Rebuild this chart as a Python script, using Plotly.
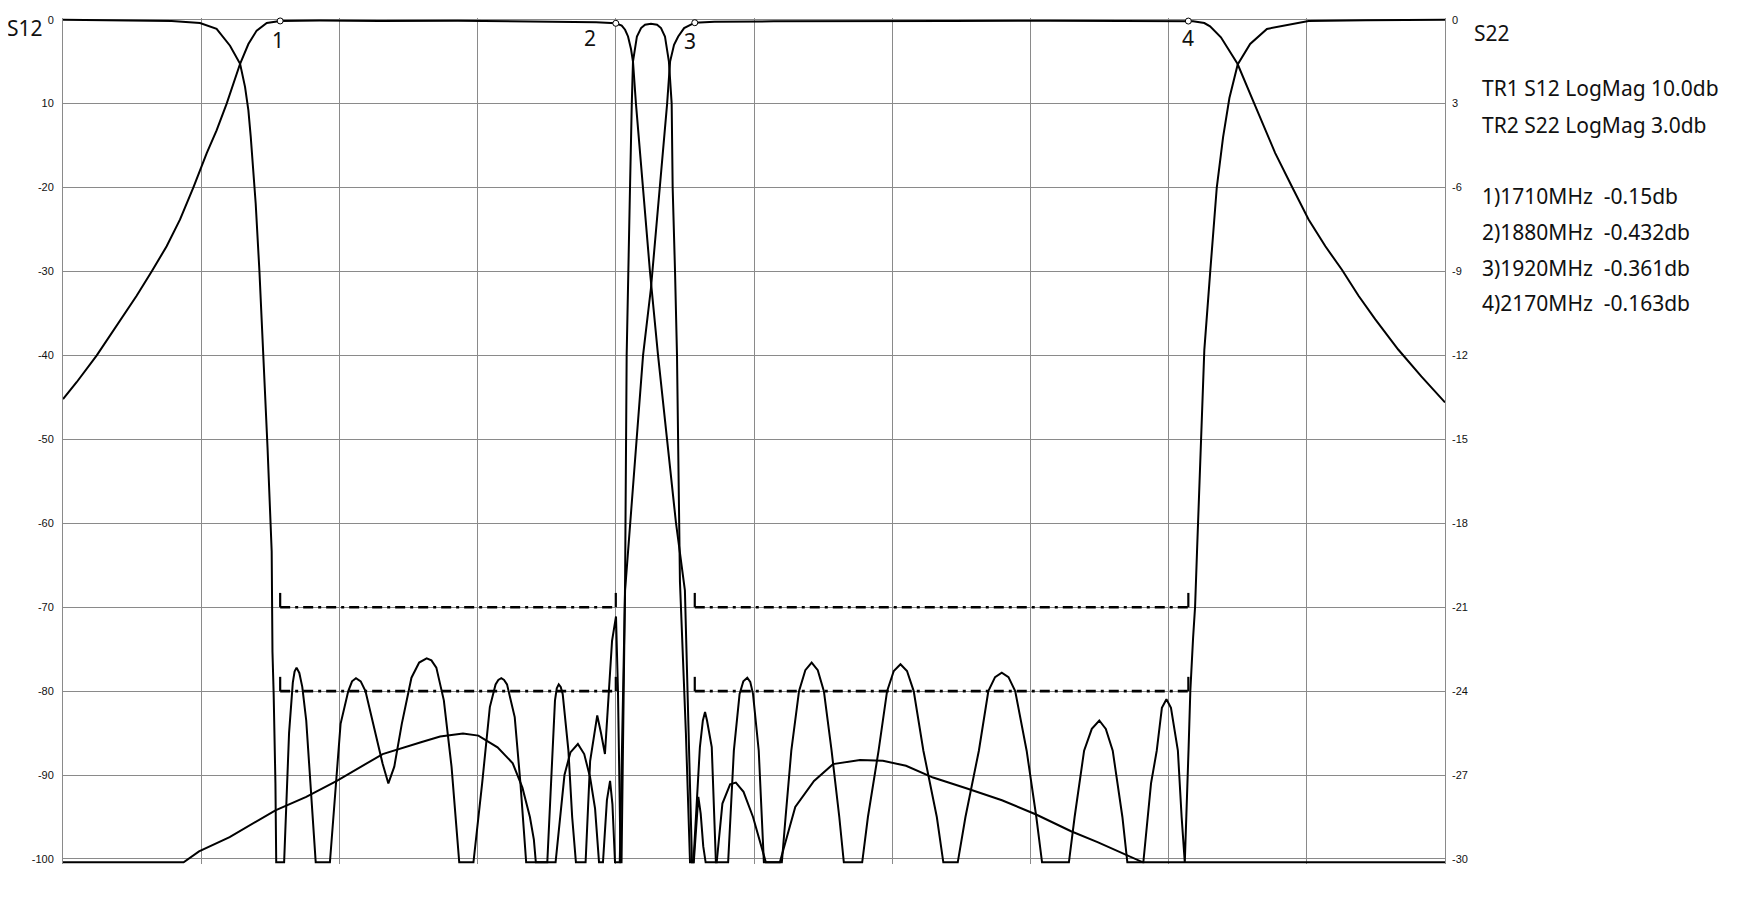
import plotly.graph_objects as go

# ---------------- data ----------------
freq_range = [1600, 2300]          # MHz
freq_grid_step = 70

# TR1 S12 (left axis, 10 dB/div) - low band path
t1_freq = [1600, 1606.9, 1617.1, 1627.2, 1637.3, 1644.9, 1652.5, 1659.3, 1666.0, 1672.8,
           1677.8, 1682.9, 1686.3, 1689.7, 1693.9, 1698.1, 1703.2, 1710, 1730, 1760,
           1800, 1840, 1870, 1880, 1883.0, 1884.7, 1886.2, 1887.7, 1888.7, 1890.2,
           1893.8, 1897.3, 1901.4, 1905.9, 1910.5, 1915.0, 1917.0, 1918.6, 1919.5, 1920.6,
           1921.8, 1923.0, 1924.3, 1925.5, 1931.1, 1934.0, 1937.9, 1940.8, 1944.7, 1949.5,
           1956.0, 1963.1, 1965.9, 1970.9, 1980.4, 1990.0, 2003.7, 2015.3, 2027.0, 2040.7,
           2057.9, 2075.6, 2092.9, 2110.6, 2124.0, 2139.4, 2147.0, 2300]
t1_db = [-45.2, -43.2, -40.0, -36.5, -32.9, -30.0, -27.0, -23.8, -20.0, -15.9,
         -13.2, -10.0, -7.6, -5.25, -2.9, -1.3, -0.4, -0.15, -0.1, -0.15,
         -0.12, -0.2, -0.3, -0.432, -0.7, -1.2, -2.0, -3.5, -5.0, -10.0,
         -20.0, -30.0, -40.0, -50.0, -60.0, -68.0, -85.0, -100.4, -100.4, -96.0,
         -92.6, -94.6, -98.5, -100.4, -100.4, -93.4, -91.1, -90.9, -92.0, -95.0,
         -100.4, -100.4, -98.1, -93.8, -90.7, -88.7, -88.2, -88.3, -88.9, -90.3,
         -91.6, -93.0, -94.7, -96.7, -98.0, -99.6, -100.4, -100.4]

# TR1 S12 (left axis) - high band path
t2_freq = [1600, 1661.1, 1668.9, 1684.4, 1707.6, 1723.2, 1738.7, 1761.9, 1781.3, 1791.0,
           1802.6, 1810.4, 1820.1, 1827.8, 1832.7, 1836.5, 1838.5, 1839.5, 1849.5, 1852.0,
           1854.0, 1857.0, 1860.8, 1864.0, 1867.0, 1869.5, 1871.5, 1873.5, 1875.5, 1877.1,
           1878.3, 1879.6, 1882.0, 1884.7, 1887.2, 1890.6, 1893.8, 1897.8, 1902.4, 1906.0,
           1907.5, 1909.5, 1911.6, 1914.6, 1920, 1930, 1960, 2000, 2050, 2100,
           2140, 2170, 2172.4, 2178.1, 2181.0, 2186.5, 2190.0, 2194.9, 2203.4, 2214.0,
           2222.5, 2230.9, 2239.4, 2247.8, 2256.2, 2264.7, 2276.3, 2288.0, 2300]
t2_db = [-100.4, -100.4, -99.1, -97.4, -94.2, -92.6, -90.7, -87.5, -86.1, -85.4,
         -85.05, -85.3, -86.7, -88.6, -91.5, -95.0, -97.7, -100.4, -100.4, -95.0,
         -90.0, -87.3, -86.3, -87.5, -90.3, -94.0, -100.4, -100.4, -93.0, -90.7,
         -93.5, -100.4, -100.4, -68.0, -60.0, -50.0, -40.0, -32.0, -20.0, -10.0,
         -5.0, -3.0, -2.0, -1.0, -0.361, -0.25, -0.2, -0.15, -0.15, -0.12,
         -0.15, -0.163, -0.2, -0.4, -0.8, -2.1, -3.4, -5.25, -10.0, -15.9,
         -19.9, -23.8, -27.0, -29.8, -32.9, -35.7, -39.3, -42.5, -45.6]

# TR2 S22 (right axis, 3 dB/div)
s22_freq = [1600, 1640, 1655, 1669.4, 1677.8, 1684.6, 1688.0, 1689.7, 1692.2, 1693.9,
            1695.1, 1696.4, 1697.6, 1699.5, 1701.5, 1703.6, 1705.7, 1706.1, 1706.7, 1707.6, 1708.0,
            1712.0, 1714.5, 1716.4, 1717.3, 1718.3, 1719.7, 1721.2, 1723.2, 1725.5, 1728.0,
            1735.2, 1740.6, 1744.5, 1746.4, 1748.4, 1750.8, 1753.2, 1757.1, 1761.9, 1764.8,
            1767.8, 1771.6, 1776.5, 1780.4, 1784.2, 1786.6, 1789.1, 1792.9, 1796.8, 1800.7,
            1807.9, 1812.3, 1816.2, 1819.1, 1820.5, 1822.0, 1823.4, 1824.9, 1828.8, 1831.7, 1834.6,
            1845.3, 1847.2, 1849.2, 1850.1, 1851.1, 1852.1, 1853.1, 1856.0, 1857.9, 1859.8,
            1864.7, 1867.0, 1870.6, 1872.5, 1874.5, 1876.5, 1878.1, 1880.1, 1881.1, 1881.9,
            1882.4, 1882.9,
            1884.7, 1885.5, 1886.0, 1886.2, 1887.2, 1888.1, 1888.7, 1890.7, 1892.8, 1894.8,
            1897.8, 1900.9, 1902.9, 1904.9, 1906.9, 1908.3, 1908.8, 1910.0, 1910.5, 1911.0,
            1912.5, 1915.5, 1917.6,
            1919.3, 1922.6, 1924.1, 1925.2, 1926.2, 1928.6, 1930.7,
            1936.9, 1939.8, 1942.7, 1944.6, 1946.6, 1948.1, 1949.5, 1952.4, 1955.0,
            1964.1, 1966.0, 1968.9, 1972.8, 1976.0, 1979.2, 1982.3, 1985.4, 1989.3, 1993.2, 1995.5,
            2004.8, 2007.7, 2013.1, 2017.4, 2020.8, 2024.2, 2027.5, 2030.9, 2035.8, 2042.6, 2045.9,
            2053.2, 2057.1, 2063.9, 2068.7, 2072.1, 2075.5, 2078.9, 2082.3, 2088.1, 2093.0, 2095.9,
            2109.5, 2112.4, 2117.2, 2121.1, 2124.9, 2128.2, 2131.7, 2136.6, 2139.1,
            2147.2, 2151.1, 2154.0, 2156.6, 2158.9, 2161.2, 2164.7, 2166.6, 2168.2,
            2170.1, 2171.0, 2172.4, 2173.4, 2174.4, 2178.1, 2181.2, 2184.4, 2187.6, 2190.8,
            2195.0, 2201.3, 2209.8, 2230.9, 2260, 2300]
s22_db = [0, -0.02, -0.05, -0.12, -0.33, -0.93, -1.34, -1.58, -2.40, -3.24,
          -4.19, -5.37, -6.57, -9.0, -12.0, -15.3, -19.0, -22.6, -24.1, -27.3, -30.12,
          -30.12, -25.5, -23.7, -23.3, -23.16, -23.35, -23.85, -25.05, -27.3, -30.12,
          -30.12, -25.17, -24.0, -23.65, -23.54, -23.65, -24.0, -25.17, -26.6, -27.3,
          -26.7, -25.17, -23.52, -22.98, -22.83, -22.9, -23.16, -24.33, -26.7, -30.12,
          -30.12, -27.3, -24.57, -23.76, -23.6, -23.54, -23.6, -23.76, -24.93, -27.3, -30.12,
          -30.12, -27.3, -24.33, -23.9, -23.76, -23.85, -24.1, -26.13, -28.5, -30.12,
          -30.12, -26.5, -24.87, -25.5, -26.25, -24.0, -22.2, -21.33, -24.0, -27.6,
          -30.12, -30.12,
          -20.1, -12.0, -10.5, -9.0, -6.0, -3.0, -1.5, -0.6, -0.3, -0.18,
          -0.15, -0.18, -0.3, -0.6, -1.5, -3.0, -6.0, -9.0, -10.5, -12.0,
          -20.1, -25.5, -30.12,
          -30.12, -26.0, -25.05, -24.75, -25.05, -26.0, -30.12,
          -30.12, -26.13, -24.1, -23.65, -23.52, -23.67, -24.1, -26.13, -30.12,
          -30.12, -28.5, -26.13, -24.0, -23.25, -22.98, -23.25, -24.0, -26.13, -28.5, -30.12,
          -30.12, -28.5, -26.13, -24.0, -23.28, -23.04, -23.28, -24.0, -26.13, -28.5, -30.12,
          -30.12, -28.5, -26.13, -24.0, -23.5, -23.34, -23.5, -24.0, -26.13, -28.5, -30.12,
          -30.12, -28.5, -26.13, -25.35, -25.05, -25.35, -26.13, -28.5, -30.12,
          -30.12, -27.3, -26.13, -24.6, -24.29, -24.6, -26.13, -28.5, -30.12,
          -26.1, -24.0, -22.1, -21.0, -19.0, -11.8, -8.9, -6.0, -4.2, -2.8,
          -1.6, -0.87, -0.33, -0.05, -0.02, 0]

# markers
marker_labels = ["1", "2", "3", "4"]
marker_freq = [1710, 1880, 1920, 2170]
marker_db = [-0.15, -0.432, -0.361, -0.163]

# spec limit lines (left axis)
spec_levels = [-70, -80]
spec_bands = [[1710, 1880], [1920, 2170]]

# axis ticks
s12_tickvals = [0, -10, -20, -30, -40, -50, -60, -70, -80, -90, -100]
s12_ticktext = ["0", "10", "-20", "-30", "-40", "-50", "-60", "-70", "-80", "-90", "-100"]
s22_tickvals = [0, -3, -6, -9, -12, -15, -18, -21, -24, -27, -30]
s22_ticktext = ["0", "3", "-6", "-9", "-12", "-15", "-18", "-21", "-24", "-27", "-30"]

info_lines = ["TR1 S12 LogMag 10.0db", "TR2 S22 LogMag 3.0db",
              "1)1710MHz\u00a0 -0.15db", "2)1880MHz\u00a0 -0.432db",
              "3)1920MHz\u00a0 -0.361db", "4)2170MHz\u00a0 -0.163db"]

assert len(t1_freq) == len(t1_db)
assert len(t2_freq) == len(t2_db)
assert len(s22_freq) == len(s22_db)

# ---------------- layout geometry ----------------
# page has an 8px body margin, figure coordinates = page coordinates - 8
OFF = 8
W, H = 1738, 883
L, R, T, B = 55, 301, 6, 27
PW, PH = W - L - R, H - T - B
Y1_RANGE = [-100.6, 0.2]
Y2_RANGE = [Y1_RANGE[0] * 0.3, Y1_RANGE[1] * 0.3]
GRID = "#8a8a8a"
LINE_W = 2
TEXT_FONT = dict(family="Noto Sans, Open Sans, sans-serif", size=21, color="#111111")
TICK_FONT = dict(family="Liberation Sans, Arial, sans-serif", size=11, color="#111111")
TEXT_LIFT = 3.5   # px correction of annotation box centre


def px(x_page):
    return (x_page - OFF - L) / PW


def py(y_page):
    return (H - B - (y_page - OFF - 0) + TEXT_LIFT) / PH


fig = go.Figure()

# spec lines (dash-dot) + solid end ticks
hx, hy, vx, vy = [], [], [], []
for lvl in spec_levels:
    for f0, f1 in spec_bands:
        hx += [f0, f1, None]
        hy += [lvl, lvl, None]
        vx += [f0, f0, None, f1, f1, None]
        vy += [lvl + 1.7, lvl, None, lvl, lvl + 1.7, None]
fig.add_trace(go.Scatter(x=hx, y=hy, mode="lines", yaxis="y",
                         line=dict(color="black", width=2.6, dash="10px,5px,3px,5px"),
                         hoverinfo="skip"))
fig.add_trace(go.Scatter(x=vx, y=vy, mode="lines", yaxis="y",
                         line=dict(color="black", width=2.2), hoverinfo="skip"))

# traces
fig.add_trace(go.Scatter(x=t1_freq, y=t1_db, mode="lines", yaxis="y", name="S12 low",
                         line=dict(color="black", width=LINE_W)))
fig.add_trace(go.Scatter(x=t2_freq, y=t2_db, mode="lines", yaxis="y", name="S12 high",
                         line=dict(color="black", width=LINE_W)))
fig.add_trace(go.Scatter(x=s22_freq, y=s22_db, mode="lines", yaxis="y2", name="S22",
                         line=dict(color="black", width=LINE_W)))

# markers
fig.add_trace(go.Scatter(x=marker_freq, y=marker_db, mode="markers", yaxis="y",
                         cliponaxis=False,
                         marker=dict(symbol="circle", size=6, color="white",
                                     line=dict(color="black", width=1))))

label_shift = [(-2, -19), (-26, -15), (-5, -18), (0, -17)]
annotations = []
for lab, f, v, (dx, dy) in zip(marker_labels, marker_freq, marker_db, label_shift):
    annotations.append(dict(x=f, y=v, xref="x", yref="y", text=lab, showarrow=False,
                            xshift=dx, yshift=dy, font=TEXT_FONT,
                            xanchor="center", yanchor="middle"))

annotations.append(dict(x=px(25), y=py(27.5), xref="paper", yref="paper", text="S12",
                        showarrow=False, font=TEXT_FONT, xanchor="center", yanchor="middle"))
annotations.append(dict(x=px(1472), y=py(33), xref="paper", yref="paper", text="S22",
                        showarrow=False, font=TEXT_FONT, xanchor="left", yanchor="middle"))
info_y = [88.3, 125, 196.7, 232.3, 268.3, 304]
for txt, yy in zip(info_lines, info_y):
    annotations.append(dict(x=px(1480), y=py(yy), xref="paper", yref="paper", text=txt,
                            showarrow=False, font=TEXT_FONT, xanchor="left", yanchor="middle"))

# active marker bar above marker 4
shapes = [dict(type="line", xref="x", yref="y", xsizemode="pixel", ysizemode="pixel",
               xanchor=marker_freq[3], yanchor=marker_db[3], x0=-5, x1=5, y0=5, y1=5,
               line=dict(color="black", width=1))]

fig.update_layout(
    width=W, height=H,
    margin=dict(l=L, r=R, t=T, b=B, pad=0),
    paper_bgcolor="white", plot_bgcolor="white",
    showlegend=False,
    annotations=annotations,
    shapes=shapes,
    xaxis=dict(range=freq_range, tick0=freq_range[0], dtick=freq_grid_step,
               showgrid=True, gridcolor=GRID, gridwidth=1, showticklabels=False,
               zeroline=False, ticks="", showline=False),
    yaxis=dict(range=Y1_RANGE, tickvals=s12_tickvals, ticktext=s12_ticktext,
               showgrid=True, gridcolor=GRID, gridwidth=1, zeroline=False, ticks="",
               tickfont=TICK_FONT, ticklabelstandoff=6,
               showline=True, linecolor=GRID, linewidth=1, mirror=True),
    yaxis2=dict(range=Y2_RANGE, overlaying="y", side="right",
                tickvals=s22_tickvals, ticktext=s22_ticktext,
                showgrid=False, zeroline=False, ticks="", tickfont=TICK_FONT,
                ticklabelstandoff=6, showline=False),
)

fig.write_html("out.html")
